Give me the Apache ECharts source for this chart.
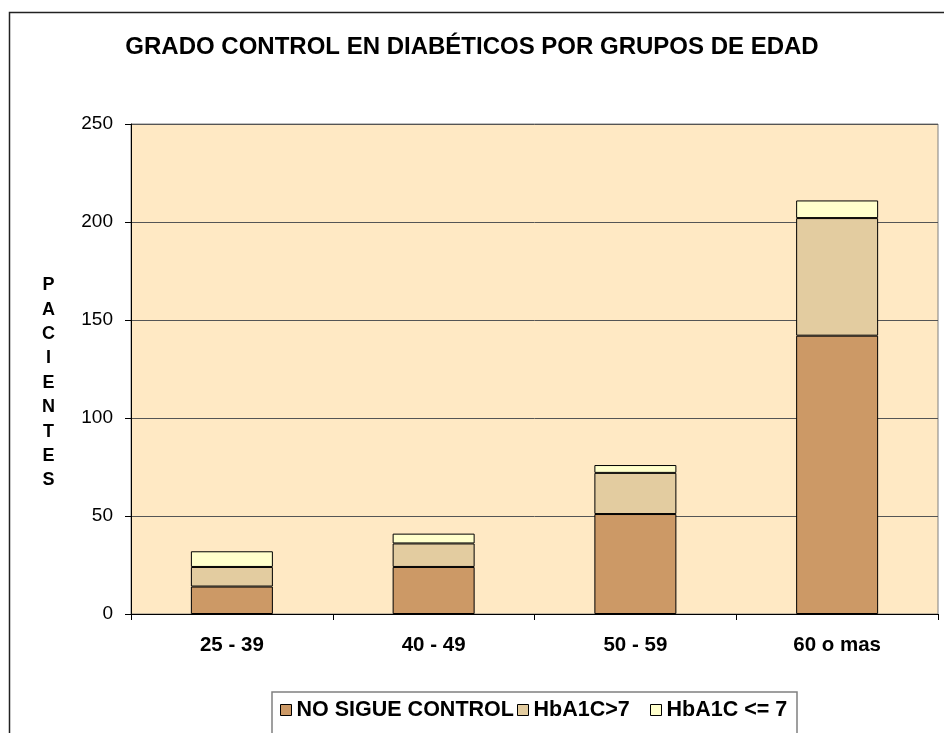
<!DOCTYPE html>
<html>
<head>
<meta charset="utf-8">
<script src="https://cdn.jsdelivr.net/npm/echarts@6/dist/echarts.min.js"></script>
<style>
  html, body { margin: 0; padding: 0; background: #fff; }
  #chart { width: 944px; height: 733px; }
</style>
</head>
<body>
<div id="chart"></div>
<script>
const categories = ["25 - 39", "40 - 49", "50 - 59", "60 o mas"];
const seriesNames = ["NO SIGUE CONTROL", "HbA1C>7", "HbA1C <= 7"];
const noSigueControl = [14, 24, 51, 142];
const hbaAbove7 = [10, 12, 21, 60];
const hbaUpTo7 = [8, 5, 4, 9];
const yTicks = { min: 0, max: 250, interval: 50 };

const colors = ["#CC9966", "#E3CCA0", "#FFFFCC"];
const font = "Liberation Sans, Arial, sans-serif";

const chart = echarts.init(document.getElementById("chart"));

const makeBar = (name, data, i) => ({
  name,
  type: "bar",
  stack: "total",
  data,
  barWidth: 82,
  itemStyle: { color: colors[i], borderColor: "#000", borderWidth: 1 },
});

// one legend per entry so each sits where it does in the picture
const legendAt = (name, left) => ({
  data: [name],
  left,
  top: 699,
  padding: 0,
  icon: "rect",
  itemWidth: 11,
  itemHeight: 11,
  selectedMode: false,
  itemStyle: { borderColor: "#000", borderWidth: 1 },
  textStyle: { fontFamily: font, fontWeight: "bold", fontSize: 21.5, lineHeight: 22, color: "#000" },
});

chart.setOption({
  animation: false,
  backgroundColor: "#fff",
  title: {
    text: "GRADO CONTROL EN DIABÉTICOS POR GRUPOS DE EDAD",
    left: "center",
    top: 35,
    padding: 0,
    textStyle: { fontFamily: font, fontWeight: "bold", fontSize: 24, color: "#000" },
  },
  graphic: [
    {
      type: "rect",
      shape: { x: 9.5, y: 12.5, width: 1000, height: 1000 },
      style: { fill: null, stroke: "#222", lineWidth: 1.5 },
      silent: true,
    },
    {
      type: "rect",
      shape: { x: 272, y: 692, width: 525, height: 60 },
      style: { fill: "#fff", stroke: "#808080", lineWidth: 1.5 },
      silent: true,
      z: -1,
    },
    {
      type: "text",
      x: 48.5,
      y: 273,
      style: {
        text: "P\nA\nC\nI\nE\nN\nT\nE\nS",
        font: "bold 18px " + font,
        lineHeight: 24.4,
        align: "center",
        verticalAlign: "top",
        fill: "#000",
      },
    },
  ],
  legend: [
    legendAt(seriesNames[0], 280),
    legendAt(seriesNames[1], 517),
    legendAt(seriesNames[2], 650),
  ],
  grid: {
    left: 131,
    right: 6,
    top: 124,
    bottom: 119,
    show: true,
    backgroundColor: "#FFE9C4",
    borderColor: "#808080",
    borderWidth: 1,
  },
  xAxis: {
    type: "category",
    data: categories,
    axisLine: { lineStyle: { color: "#000", width: 1 } },
    axisTick: { show: true, length: 6, lineStyle: { color: "#000" } },
    axisLabel: {
      margin: 21,
      fontFamily: font,
      fontWeight: "bold",
      fontSize: 20.5,
      color: "#000",
    },
  },
  yAxis: {
    type: "value",
    min: yTicks.min,
    max: yTicks.max,
    interval: yTicks.interval,
    axisLine: { show: true, lineStyle: { color: "#000", width: 1 } },
    axisTick: { show: true, length: 6, lineStyle: { color: "#000" } },
    splitLine: { lineStyle: { color: "#555", width: 1 } },
    axisLabel: { margin: 18, fontFamily: font, fontSize: 19, color: "#000" },
  },
  series: [
    makeBar(seriesNames[0], noSigueControl, 0),
    makeBar(seriesNames[1], hbaAbove7, 1),
    makeBar(seriesNames[2], hbaUpTo7, 2),
  ],
});
</script>
</body>
</html>
